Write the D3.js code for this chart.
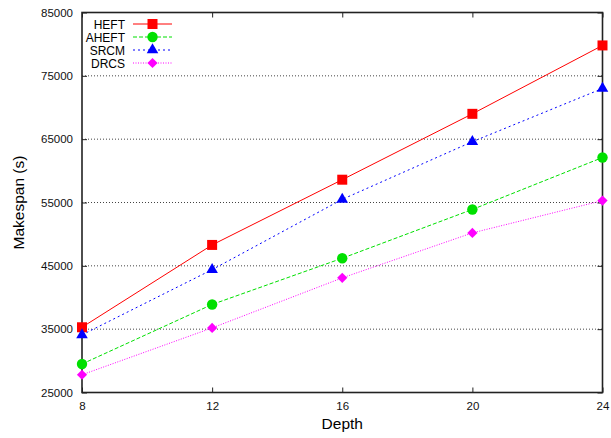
<!DOCTYPE html>
<html>
<head>
<meta charset="utf-8">
<script src="https://cdn.jsdelivr.net/npm/d3@7"></script>
<style>
  body { margin: 0; background: #fff; }
  text { font-family: "Liberation Sans", Arial, sans-serif; }
</style>
</head>
<body>
<svg width="611" height="438"></svg>
<script>
// chart data
var depths = [8, 12, 16, 20, 24];
var seriesNames = ["HEFT", "AHEFT", "SRCM", "DRCS"];
var heft  = [35300, 48300, 58600, 69000, 79800];
var aheft = [29500, 38900, 46200, 53900, 62100];
var srcm  = [34100, 44400, 55500, 64600, 73000];
var drcs  = [27800, 35200, 43100, 50200, 55300];
var yTicks = [25000, 35000, 45000, 55000, 65000, 75000, 85000];

// plot box
var margin = {top: 12.5, right: 8.5, bottom: 45.5, left: 82},
    width = 611 - margin.left - margin.right,
    height = 438 - margin.top - margin.bottom;

var svg = d3.select("svg");
var g = svg.append("g")
    .attr("transform", "translate(" + margin.left + "," + margin.top + ")");

var x = d3.scaleLinear().domain([8, 24]).range([0, width]),
    y = d3.scaleLinear().domain([25000, 85000]).range([height, 0]);

// dotted grid, only inner lines
g.append("g").selectAll("line")
    .data(yTicks.slice(1, -1))
  .enter().append("line")
    .attr("x1", 0).attr("x2", width)
    .attr("y1", d => y(d)).attr("y2", d => y(d))
    .attr("stroke", "#444")
    .attr("stroke-width", 1)
    .attr("stroke-dasharray", "1,2");

// axes with inward ticks (gnuplot style, mirrored)
var yAxis = g.append("g")
    .call(d3.axisLeft(y).tickValues(yTicks).tickSize(-5).tickPadding(9).tickFormat(d3.format("d")));
var yAxisR = g.append("g").attr("transform", "translate(" + width + ",0)")
    .call(d3.axisRight(y).tickValues(yTicks).tickSize(-5).tickFormat(""));
var xAxis = g.append("g").attr("transform", "translate(0," + height + ")")
    .call(d3.axisBottom(x).tickValues(depths).tickSize(-5).tickPadding(9));
var xAxisT = g.append("g")
    .call(d3.axisTop(x).tickValues(depths).tickSize(-5).tickFormat(""));

[yAxis, yAxisR, xAxis, xAxisT].forEach(function(a) {
  a.select(".domain").remove();
  a.selectAll("line").attr("stroke", "#222");
  a.selectAll("text").attr("font-size", "11.5px").attr("fill", "#111")
    .style("font-family", "'Liberation Sans', Arial, sans-serif");
});

// frame
g.append("rect")
    .attr("width", width).attr("height", height)
    .attr("fill", "none")
    .attr("stroke", "#222")
    .attr("stroke-width", 1.6);

// axis titles
svg.append("text")
    .attr("transform", "translate(24," + (margin.top + height / 2) + ") rotate(-90)")
    .attr("text-anchor", "middle")
    .attr("font-size", "15.5px")
    .text("Makespan (s)");

svg.append("text")
    .attr("x", margin.left + width / 2)
    .attr("y", 429)
    .attr("text-anchor", "middle")
    .attr("font-size", "15.5px")
    .text("Depth");

// series styles
var series = [
  {name: seriesNames[0], values: heft,  color: "#ff0000", dash: null,    shape: "square"},
  {name: seriesNames[1], values: aheft, color: "#00e000", dash: "4,2",   shape: "circle"},
  {name: seriesNames[2], values: srcm,  color: "#0000ff", dash: "2,3",   shape: "triangle"},
  {name: seriesNames[3], values: drcs,  color: "#ff00ff", dash: "1,1.5", shape: "diamond"}
];

var symbols = {
  square: d3.symbol().type(d3.symbolSquare).size(100),
  circle: d3.symbol().type(d3.symbolCircle).size(85),
  triangle: d3.symbol().type(d3.symbolTriangle).size(58),
  diamond: d3.symbol().type(d3.symbolSquare).size(52)
};
// diamond is a square turned 45 degrees
function rot(shape) { return shape === "diamond" ? " rotate(45)" : ""; }

var line = d3.line()
    .x((d, i) => x(depths[i]))
    .y(d => y(d));

series.forEach(function(s) {
  g.append("path")
      .datum(s.values)
      .attr("fill", "none")
      .attr("stroke", s.color)
      .attr("stroke-width", 1)
      .attr("stroke-dasharray", s.dash)
      .attr("d", line);
});

series.forEach(function(s) {
  g.append("g").selectAll("path")
      .data(s.values)
    .enter().append("path")
      .attr("transform", (d, i) => "translate(" + x(depths[i]) + "," + y(d) + ")" + rot(s.shape))
      .attr("d", symbols[s.shape])
      .attr("fill", s.color);
});

// legend
var legend = svg.append("g").attr("transform", "translate(0,24)");
series.forEach(function(s, i) {
  var row = legend.append("g").attr("transform", "translate(0," + (i * 13) + ")");
  row.append("text")
      .attr("x", 125).attr("y", 4.5)
      .attr("text-anchor", "end")
      .attr("font-size", "12px")
      .text(s.name);
  row.append("line")
      .attr("x1", 133).attr("x2", 172)
      .attr("stroke", s.color)
      .attr("stroke-width", 1)
      .attr("stroke-dasharray", s.dash);
  row.append("path")
      .attr("transform", "translate(152.5,0)" + rot(s.shape))
      .attr("d", symbols[s.shape])
      .attr("fill", s.color);
});
</script>
</body>
</html>
